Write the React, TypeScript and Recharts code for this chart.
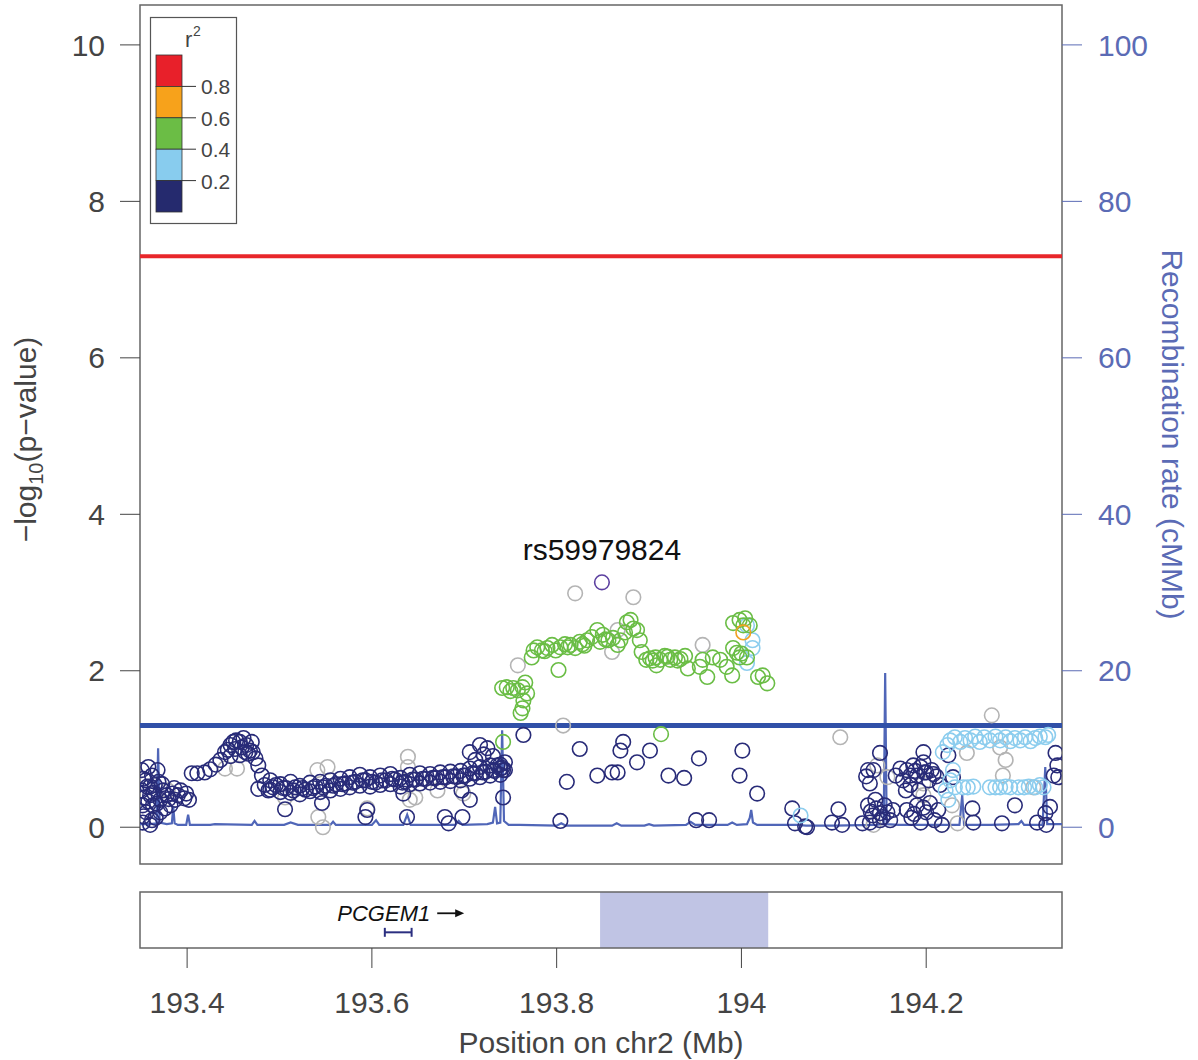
import React from "react";
import {
  ComposedChart,
  Scatter,
  Line,
  XAxis,
  YAxis,
  ReferenceLine,
  ReferenceArea,
  ReferenceDot,
} from "recharts";

const FONT = '"Liberation Sans", Arial, sans-serif';

// x positions are in Mb on chr2, y values are -log10(p)
const X_DOMAIN: [number, number] = [193.349, 194.347];
const xTicks = [193.4, 193.6, 193.8, 194, 194.2];
const pTicks = [0, 2, 4, 6, 8, 10];
const recombTicks = [0, 20, 40, 60, 80, 100];

const genomeWideLine = 7.3;
const suggestiveLine = 1.3;

const topSnp = { name: "rs59979824", pos: 193.849, logp: 3.13 };
const highlightRegion: [number, number] = [193.847, 194.029];

const gene = { name: "PCGEM1", start: 193.614, end: 193.643 };

const ldColors = ["#e8202a", "#f7a21b", "#6bbd45", "#88ccee", "#252a6e"];
const ldLabels = ["0.8", "0.6", "0.4", "0.2"];

const graySnps: [number, number][] = [
  [193.379, 0.47], [193.441, 0.75], [193.454, 0.75], [193.506, 0.38], [193.541, 0.73],
  [193.552, 0.77], [193.547, 0.0], [193.542, 0.13], [193.639, 0.9], [193.639, 0.77],
  [193.641, 0.35], [193.647, 0.38], [193.671, 0.47], [193.699, 0.43], [193.595, 0.24],
  [193.82, 2.99], [193.883, 2.94], [193.758, 2.07], [193.86, 2.24], [193.866, 2.52],
  [193.958, 2.33], [193.807, 1.3], [194.107, 1.15], [194.271, 1.43], [194.286, 0.86],
  [194.283, 0.66], [194.244, 0.95], [194.228, 0.28], [194.234, 0.05], [194.217, 0.03],
  [194.197, 0.41], [194.197, 0.56], [194.143, 0.03], [194.147, 0.79], [194.158, 0.64],
  [194.316, 0.51], [194.28, 1.02],
];

const navySnps: [number, number][] = [
  // left edge cluster
  [193.351, 0.73], [193.351, 0.47], [193.352, 0.28], [193.352, 0.06], [193.355, 0.6],
  [193.356, 0.19], [193.358, 0.77], [193.36, 0.41], [193.36, 0.03], [193.362, 0.66],
  [193.363, 0.28], [193.365, 0.54], [193.366, 0.12], [193.368, 0.73], [193.371, 0.35],
  [193.371, 0.19], [193.374, 0.47], [193.376, 0.24], [193.378, 0.41], [193.382, 0.28],
  [193.384, 0.43], [193.387, 0.35], [193.39, 0.41], [193.393, 0.47], [193.397, 0.37],
  [193.399, 0.43], [193.402, 0.35], [193.354, 0.38], [193.357, 0.52], [193.364, 0.44],
  [193.369, 0.58], [193.353, 0.14], [193.358, 0.33], [193.362, 0.09], [193.367, 0.3],
  [193.373, 0.55], [193.38, 0.36], [193.386, 0.5], [193.353, 0.62], [193.36, 0.52],
  [193.405, 0.69], [193.411, 0.69], [193.419, 0.7], [193.425, 0.74], [193.431, 0.8],
  // hump
  [193.436, 0.86], [193.441, 0.96], [193.447, 1.05], [193.45, 1.09], [193.453, 1.11],
  [193.457, 1.09], [193.461, 1.14], [193.464, 1.05], [193.468, 0.98], [193.47, 1.09],
  [193.474, 0.88], [193.477, 0.79], [193.457, 0.92], [193.447, 0.91], [193.481, 0.66],
  [193.484, 0.54], [193.488, 0.47], [193.477, 0.49], [193.444, 0.99], [193.466, 0.94],
  [193.452, 1.0], [193.459, 1.02], [193.463, 0.96], [193.471, 0.96],
  // long band
  [193.49, 0.48], [193.49, 0.6], [193.496, 0.54], [193.501, 0.45], [193.501, 0.55],
  [193.507, 0.5], [193.512, 0.44], [193.512, 0.58], [193.517, 0.51], [193.522, 0.42],
  [193.522, 0.53], [193.528, 0.48], [193.533, 0.46], [193.533, 0.57], [193.539, 0.52],
  [193.544, 0.45], [193.544, 0.58], [193.55, 0.53], [193.555, 0.47], [193.555, 0.6],
  [193.561, 0.55], [193.566, 0.49], [193.566, 0.62], [193.571, 0.56], [193.576, 0.51],
  [193.576, 0.64], [193.582, 0.58], [193.587, 0.53], [193.587, 0.67], [193.593, 0.6],
  [193.598, 0.52], [193.598, 0.64], [193.604, 0.57], [193.609, 0.54], [193.609, 0.66],
  [193.615, 0.6], [193.62, 0.55], [193.62, 0.68], [193.625, 0.61], [193.631, 0.52],
  [193.631, 0.63], [193.636, 0.58], [193.641, 0.55], [193.641, 0.67], [193.647, 0.61],
  [193.652, 0.56], [193.652, 0.69], [193.658, 0.62], [193.663, 0.57], [193.663, 0.68],
  [193.669, 0.63], [193.674, 0.58], [193.674, 0.7], [193.68, 0.64], [193.685, 0.59],
  [193.685, 0.71], [193.691, 0.65], [193.696, 0.6], [193.696, 0.72], [193.701, 0.66],
  [193.706, 0.62], [193.706, 0.75], [193.712, 0.69], [193.717, 0.64], [193.717, 0.77],
  [193.723, 0.71], [193.728, 0.66], [193.728, 0.79], [193.733, 0.72], [193.739, 0.67],
  [193.739, 0.8], [193.744, 0.73],
  [193.493, 0.51], [193.504, 0.5], [193.515, 0.47], [193.525, 0.5], [193.536, 0.5],
  [193.547, 0.51], [193.558, 0.53], [193.568, 0.55], [193.579, 0.57], [193.59, 0.6],
  [193.6, 0.58], [193.611, 0.6], [193.622, 0.62], [193.633, 0.57], [193.644, 0.61],
  [193.655, 0.62], [193.666, 0.63], [193.677, 0.64], [193.688, 0.65], [193.699, 0.66],
  [193.709, 0.69], [193.72, 0.7], [193.731, 0.73], [193.741, 0.76],
  // clump before the peak region
  [193.706, 0.96], [193.712, 0.86], [193.717, 1.05], [193.725, 1.01], [193.731, 0.91],
  [193.736, 0.79], [193.739, 0.75], [193.742, 0.73], [193.744, 0.83], [193.721, 0.93],
  // below the band
  [193.506, 0.23], [193.546, 0.31], [193.593, 0.13], [193.638, 0.13], [193.683, 0.05],
  [193.698, 0.13], [193.742, 0.38], [193.706, 0.35], [193.595, 0.22], [193.679, 0.13],
  [193.634, 0.43], [193.697, 0.47],
  // middle scatter
  [193.764, 1.18], [193.825, 1.0], [193.811, 0.58], [193.844, 0.66], [193.86, 0.7],
  [193.866, 0.7], [193.869, 0.98], [193.872, 1.09], [193.887, 0.83], [193.901, 0.98],
  [193.921, 0.66], [193.938, 0.63], [193.954, 0.88], [194.001, 0.98], [193.998, 0.66],
  [194.017, 0.43], [194.055, 0.24], [193.804, 0.08], [193.951, 0.09], [193.965, 0.09],
  [194.069, 0.01],
  // right side
  [194.058, 0.05], [194.071, 0.0], [194.098, 0.06], [194.105, 0.23], [194.109, 0.03],
  [194.131, 0.05], [194.15, 0.95], [194.137, 0.73], [194.139, 0.56], [194.143, 0.73],
  [194.135, 0.65], [194.145, 0.35], [194.15, 0.18], [194.137, 0.28], [194.142, 0.15],
  [194.146, 0.24], [194.15, 0.09], [194.155, 0.28], [194.158, 0.19], [194.161, 0.09],
  [194.164, 0.22], [194.139, 0.06], [194.167, 0.66], [194.172, 0.75], [194.175, 0.6],
  [194.179, 0.73], [194.183, 0.54], [194.186, 0.79], [194.19, 0.66], [194.194, 0.77],
  [194.197, 0.83], [194.2, 0.7], [194.203, 0.6], [194.206, 0.73], [194.211, 0.65],
  [194.215, 0.54], [194.192, 0.47], [194.183, 0.66], [194.178, 0.47], [194.179, 0.22],
  [194.184, 0.12], [194.19, 0.28], [194.194, 0.06], [194.2, 0.19], [194.204, 0.31],
  [194.209, 0.09], [194.213, 0.22], [194.217, 0.03], [194.197, 0.96], [194.224, 0.92],
  [194.229, 0.64], [194.25, 0.24], [194.251, 0.06], [194.282, 0.05], [194.296, 0.28],
  [194.32, 0.06], [194.329, 0.18], [194.33, 0.03], [194.34, 0.95], [194.338, 0.66],
  [194.343, 0.64], [194.334, 0.26], [194.342, 0.79],
  [194.188, 0.72], [194.198, 0.7], [194.208, 0.68], [194.187, 0.17], [194.197, 0.25],
  [194.14, 0.2], [194.153, 0.13],
];

const lightBlueSnps: [number, number][] = [
  [194.218, 0.96], [194.223, 1.05], [194.226, 1.11], [194.231, 1.15], [194.237, 1.09],
  [194.242, 1.14], [194.248, 1.11], [194.253, 1.16], [194.258, 1.09], [194.263, 1.15],
  [194.269, 1.11], [194.275, 1.16], [194.28, 1.11], [194.286, 1.15], [194.291, 1.1],
  [194.296, 1.14], [194.302, 1.11], [194.307, 1.15], [194.313, 1.1], [194.318, 1.14],
  [194.323, 1.16], [194.329, 1.15], [194.332, 1.18],
  [194.221, 0.47], [194.226, 0.6], [194.231, 0.51], [194.24, 0.51], [194.245, 0.51],
  [194.251, 0.52], [194.269, 0.51], [194.275, 0.51], [194.28, 0.51], [194.286, 0.52],
  [194.291, 0.51], [194.3, 0.51], [194.306, 0.51], [194.311, 0.52], [194.318, 0.51],
  [194.323, 0.54], [194.327, 0.51], [194.229, 0.73], [194.224, 0.35],
  [194.064, 0.15], [194.006, 2.58], [194.012, 2.39], [194.012, 2.29], [194.006, 2.1],
];

const greenSnps: [number, number][] = [
  [193.741, 1.78], [193.746, 1.79], [193.753, 1.78], [193.758, 1.75], [193.763, 1.79],
  [193.766, 1.85], [193.768, 1.71], [193.764, 1.62], [193.763, 1.52], [193.761, 1.46],
  [193.773, 2.17], [193.775, 2.26], [193.802, 2.01],
  [193.779, 2.3], [193.784, 2.26], [193.79, 2.29], [193.795, 2.33], [193.799, 2.26],
  [193.804, 2.3], [193.809, 2.34], [193.815, 2.33], [193.82, 2.29], [193.825, 2.37],
  [193.83, 2.32], [193.833, 2.39], [193.838, 2.43], [193.844, 2.52], [193.847, 2.37],
  [193.85, 2.46], [193.856, 2.39], [193.861, 2.42], [193.866, 2.33], [193.869, 2.39],
  [193.874, 2.49], [193.876, 2.62], [193.88, 2.65], [193.883, 2.54], [193.887, 2.52],
  [193.89, 2.39], [193.892, 2.24], [193.897, 2.14], [193.901, 2.16],
  [193.907, 2.17], [193.912, 2.14], [193.917, 2.19], [193.923, 2.14], [193.928, 2.17],
  [193.934, 2.15], [193.939, 2.19], [193.942, 2.03], [193.908, 2.07],
  [193.955, 2.05], [193.963, 1.92], [193.969, 2.17], [193.977, 2.14], [193.984, 2.05],
  [193.99, 1.94], [193.991, 2.29], [193.995, 2.23], [193.998, 2.65], [194.002, 2.58],
  [193.991, 2.61], [194.009, 2.58], [194.004, 2.67], [193.998, 2.17], [194.006, 2.17],
  [194.018, 1.92], [194.028, 1.84], [194.023, 1.94], [193.958, 2.14],
  [193.742, 1.09], [193.913, 1.19],
  [193.787, 2.25], [193.812, 2.3], [193.828, 2.34], [193.853, 2.4], [193.904, 2.13],
  [193.92, 2.18], [193.931, 2.13], [194.0, 2.22], [193.75, 1.74],
];

const orangeSnps: [number, number][] = [[194.002, 2.49]];
const purpleSnps: [number, number][] = [[topSnp.pos, topSnp.logp]];

// recombination rate, cM/Mb
const recombRate: [number, number][] = [
  [193.349, 0.4], [193.36, 0.4], [193.367, 0.5], [193.3686, 10.1], [193.3702, 0.6],
  [193.378, 0.4], [193.3835, 0.5], [193.385, 2.6], [193.3865, 0.5], [193.39, 0.3],
  [193.399, 0.3], [193.4011, 1.6], [193.403, 0.3], [193.425, 0.3], [193.43, 0.4],
  [193.47, 0.3], [193.473, 0.8], [193.476, 0.3], [193.505, 0.3], [193.512, 0.6],
  [193.52, 0.3], [193.555, 0.3], [193.558, 0.7], [193.561, 0.3], [193.6, 0.3],
  [193.6045, 0.9], [193.608, 0.3], [193.634, 0.3], [193.6382, 1.6], [193.642, 0.3],
  [193.69, 0.3], [193.694, 0.8], [193.698, 0.3], [193.725, 0.4], [193.731, 0.6],
  [193.7334, 2.6], [193.7355, 0.5], [193.739, 0.6], [193.741, 12.4], [193.743, 0.8],
  [193.748, 0.3], [193.76, 0.3], [193.8, 0.2], [193.805, 0.5], [193.81, 0.2],
  [193.86, 0.2], [193.865, 0.5], [193.87, 0.2], [193.895, 0.2], [193.9, 0.4],
  [193.905, 0.2], [193.94, 0.3], [193.945, 0.7], [193.95, 0.3], [193.985, 0.3],
  [193.99, 0.6], [193.995, 0.3], [194.006, 0.4], [194.009, 1.2], [194.0106, 2.2],
  [194.0125, 0.6], [194.017, 0.3], [194.06, 0.3], [194.07, 0.2], [194.1, 0.2],
  [194.145, 0.3], [194.154, 0.4], [194.1556, 19.7], [194.1572, 0.4], [194.17, 0.3],
  [194.2, 0.3], [194.236, 0.3], [194.239, 4.1], [194.241, 0.3], [194.27, 0.3],
  [194.3, 0.4], [194.303, 0.8], [194.306, 0.3], [194.326, 0.3], [194.3289, 7.7],
  [194.331, 0.4], [194.347, 0.4],
];

const toPts = (arr: [number, number][]) => arr.map(([pos, logp]) => ({ pos, logp }));
const recombData = recombRate.map(([pos, rate]) => ({ pos, rate }));

const ring = (color: string) => (props: any) => (
  <circle cx={props.cx} cy={props.cy} r={7.3} fill="none" stroke={color} strokeWidth={1.6} />
);

const LeftTitle = (props: any) => {
  const vb = props.viewBox || { y: 5, height: 859 };
  const cy = vb.y + vb.height / 2;
  return (
    <text transform={`translate(36, ${cy + 5}) rotate(-90)`} textAnchor="middle" fontSize={30} fill="#444">
      −log
      <tspan fontSize={20} dy={7}>10</tspan>
      <tspan dy={-7}>(p−value)</tspan>
    </text>
  );
};

const RightTitle = (props: any) => {
  const vb = props.viewBox || { y: 5, height: 859 };
  const cy = vb.y + vb.height / 2;
  return (
    <text transform={`translate(1162, ${cy}) rotate(90)`} textAnchor="middle" fontSize={30} fill="#5b6bb5">
      Recombination rate (cMMb)
    </text>
  );
};

const Legend = () => {
  const barTop = 55;
  const seg = 31.4;
  return (
    <svg width={300} height={240} style={{ position: "absolute", left: 0, top: 0, pointerEvents: "none" }}>
      <rect x={150.5} y={17.5} width={86} height={206} fill="#fff" stroke="#555" strokeWidth={1.2} />
      <text x={185} y={47} fontSize={22} fill="#444" fontFamily={FONT}>r</text>
      <text x={193} y={36} fontSize={14} fill="#444" fontFamily={FONT}>2</text>
      {ldColors.map((c, i) => (
        <rect key={c} x={156} y={barTop + i * seg} width={26} height={seg} fill={c} stroke="#333" strokeWidth={0.8} />
      ))}
      {ldLabels.map((l, i) => (
        <g key={l}>
          <line x1={182} x2={196} y1={barTop + (i + 1) * seg} y2={barTop + (i + 1) * seg} stroke="#333" strokeWidth={1} />
          <text x={201} y={barTop + (i + 1) * seg + 8} fontSize={21} fill="#444" fontFamily={FONT}>{l}</text>
        </g>
      ))}
    </svg>
  );
};

const GeneLabel = (p: any) => (
  <g>
    <text x={p.cx + 32} y={p.cy + 8} textAnchor="end" fontSize={22} fontStyle="italic" fill="#111" fontFamily={FONT}>
      {gene.name}
    </text>
    <line x1={p.cx + 39} x2={p.cx + 62} y1={p.cy} y2={p.cy} stroke="#111" strokeWidth={1.8} />
    <path d={`M${p.cx + 66},${p.cy} l-9,-4 l0,8 z`} fill="#111" />
  </g>
);

export default function App() {
  return (
    <div style={{ position: "absolute", left: 0, top: 0, width: 1198, height: 1060, background: "#fff", fontFamily: FONT }}>
      <ComposedChart width={1198} height={870} margin={{ top: 5, right: 0, bottom: 6, left: 0 }}>
        <XAxis dataKey="pos" type="number" domain={X_DOMAIN} allowDataOverflow hide />
        <YAxis
          yAxisId="left"
          type="number"
          domain={[-0.47, 10.51]}
          allowDataOverflow
          ticks={pTicks}
          width={140}
          tickSize={20}
          tickMargin={15}
          axisLine={false}
          tickLine={{ stroke: "#444" }}
          tick={{ fontSize: 30, fill: "#444" }}
          label={<LeftTitle />}
        />
        <YAxis
          yAxisId="right"
          orientation="right"
          type="number"
          domain={[-4.7, 105.1]}
          allowDataOverflow
          ticks={recombTicks}
          width={136}
          tickSize={20}
          tickMargin={16}
          axisLine={false}
          tickLine={{ stroke: "#5b6bb5" }}
          tick={{ fontSize: 30, fill: "#5b6bb5" }}
          label={<RightTitle />}
        />
        <ReferenceArea
          yAxisId="left"
          x1={X_DOMAIN[0]}
          x2={X_DOMAIN[1]}
          y1={-0.47}
          y2={10.51}
          fill="none"
          stroke="#666"
          strokeWidth={1.5}
        />
        <Line
          yAxisId="right"
          data={recombData}
          dataKey="rate"
          type="linear"
          stroke="#5066b8"
          strokeWidth={2.2}
          dot={false}
          isAnimationActive={false}
        />
        <Scatter yAxisId="left" data={toPts(graySnps)} dataKey="logp" shape={ring("#b4b4b4")} isAnimationActive={false} />
        <Scatter yAxisId="left" data={toPts(navySnps)} dataKey="logp" shape={ring("#282b78")} isAnimationActive={false} />
        <Scatter yAxisId="left" data={toPts(lightBlueSnps)} dataKey="logp" shape={ring("#8ccdee")} isAnimationActive={false} />
        <Scatter yAxisId="left" data={toPts(greenSnps)} dataKey="logp" shape={ring("#6abd45")} isAnimationActive={false} />
        <Scatter yAxisId="left" data={toPts(orangeSnps)} dataKey="logp" shape={ring("#f0a020")} isAnimationActive={false} />
        <Scatter yAxisId="left" data={toPts(purpleSnps)} dataKey="logp" shape={ring("#5c40a0")} isAnimationActive={false} />
        <ReferenceLine yAxisId="left" y={genomeWideLine} stroke="#e8262a" strokeWidth={4} />
        <ReferenceLine yAxisId="left" y={suggestiveLine} stroke="#3050a8" strokeWidth={5} />
        <ReferenceDot
          yAxisId="left"
          x={topSnp.pos}
          y={topSnp.logp}
          r={0}
          shape={(p: any) => (
            <text x={p.cx} y={p.cy - 22} textAnchor="middle" fontSize={30} fill="#111" fontFamily={FONT}>
              {topSnp.name}
            </text>
          )}
        />
      </ComposedChart>

      <div style={{ position: "absolute", left: 0, top: 880 }}>
        <ComposedChart width={1198} height={180} margin={{ top: 12, right: 136, bottom: 0, left: 140 }}>
          <XAxis
            dataKey="pos"
            type="number"
            domain={X_DOMAIN}
            allowDataOverflow
            ticks={xTicks}
            height={112}
            tickSize={20}
            tickMargin={24}
            axisLine={false}
            tickLine={{ stroke: "#444" }}
            tick={{ fontSize: 30, fill: "#444" }}
            label={{ value: "Position on chr2 (Mb)", position: "insideBottom", offset: 7, fontSize: 30, fill: "#444" }}
          />
          <YAxis type="number" domain={[0, 1]} hide />
          <ReferenceArea x1={highlightRegion[0]} x2={highlightRegion[1]} y1={0} y2={1} fill="#c0c4e4" fillOpacity={1} stroke="none" />
          <ReferenceArea x1={X_DOMAIN[0]} x2={X_DOMAIN[1]} y1={0} y2={1} fill="none" stroke="#666" strokeWidth={1.5} />
          <Line
            data={[{ pos: gene.start, y: 0.28 }, { pos: gene.end, y: 0.28 }]}
            dataKey="y"
            stroke="#2b2f80"
            strokeWidth={2}
            dot={false}
            isAnimationActive={false}
          />
          <ReferenceLine segment={[{ x: gene.start, y: 0.2 }, { x: gene.start, y: 0.36 }]} stroke="#2b2f80" strokeWidth={2} />
          <ReferenceLine segment={[{ x: gene.end, y: 0.2 }, { x: gene.end, y: 0.36 }]} stroke="#2b2f80" strokeWidth={2} />
          <ReferenceDot x={(gene.start + gene.end) / 2} y={0.62} r={0} shape={GeneLabel} />
        </ComposedChart>
      </div>

      <Legend />
    </div>
  );
}
